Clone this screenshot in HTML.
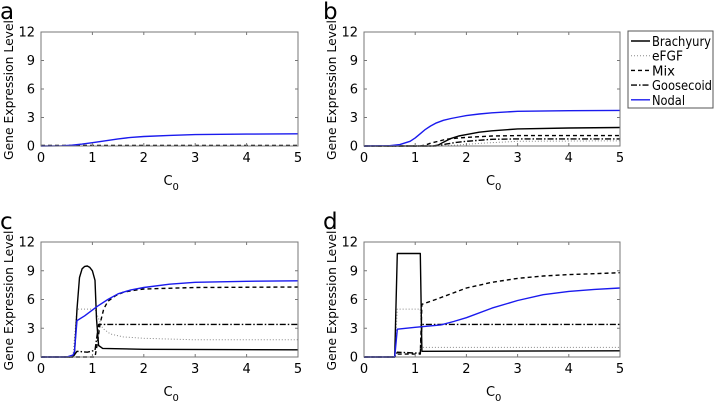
<!DOCTYPE html>
<html><head><meta charset="utf-8"><style>
body{margin:0;background:#fff;font-family:"Liberation Sans","DejaVu Sans",sans-serif}
svg text{font-family:"DejaVu Sans","Liberation Sans",sans-serif}
</style></head><body>
<svg id="c" width="714" height="402" viewBox="0 0 714 402"></svg>
<script>
const xTicks=[0,1,2,3,4,5];
const yTicks=[0,3,6,9,12];
const seriesNames=["Brachyury","eFGF","Mix","Goosecoid","Nodal"];
// panel a
const aNodalX=[0,0.4,0.6,0.8,1,1.25,1.5,1.75,2,2.5,3,4,5];
const aNodalY=[0,0.02,0.08,0.2,0.35,0.55,0.75,0.9,1.0,1.12,1.2,1.25,1.28];
const aFlatX=[0,5];
const aFlatY=[0.05,0.05];
// panel b
const bNodalX=[0,0.5,0.7,0.9,1,1.1,1.2,1.3,1.4,1.55,1.7,1.85,2,2.25,2.5,3,4,5];
const bNodalY=[0,0.03,0.15,0.5,0.85,1.3,1.75,2.1,2.4,2.7,2.9,3.05,3.2,3.37,3.5,3.65,3.72,3.75];
const bBraX=[0,1.35,1.45,1.55,1.7,1.85,2,2.25,2.5,3,4,5];
const bBraY=[0,0,0.1,0.4,0.8,1.05,1.2,1.45,1.6,1.8,1.9,1.95];
const bMixX=[0,1.1,1.2,1.3,1.45,1.6,1.8,2,2.5,3,5];
const bMixY=[0,0,0.1,0.3,0.5,0.7,0.82,0.9,1.05,1.1,1.1];
const bGscX=[0,1.4,1.6,1.8,2,2.5,3,5];
const bGscY=[0,0,0.2,0.38,0.5,0.7,0.75,0.75];
const bFgfX=[0,1.5,1.8,2.3,3,5];
const bFgfY=[0,0,0.1,0.3,0.5,0.55];
// panel c
const cBraX=[0,0.6,0.65,0.7,0.75,0.8,0.85,0.9,0.95,1.0,1.05,1.08,1.12,1.2,2,5];
const cBraY=[0,0,0.2,5,8.3,9.2,9.45,9.5,9.35,9.0,8,4,1.2,0.9,0.8,0.75];
const cNodalX=[0,0.5,0.62,0.65,0.7,0.85,1.1,1.3,1.5,1.75,2,2.5,3,4,5];
const cNodalY=[0,0,0.2,0.5,3.8,4.3,5.3,6,6.6,7.0,7.25,7.6,7.8,7.9,7.95];
const cMixX=[0,1.05,1.1,1.15,1.22,1.3,1.45,1.6,1.8,2,3,5];
const cMixY=[0,0,1.5,3.5,5,5.8,6.4,6.75,6.95,7.1,7.25,7.3];
const cGscX=[0,0.62,0.7,0.9,1.05,1.12,5];
const cGscY=[0,0,0.6,0.5,0.7,3.4,3.4];
const cFgfX=[0,0.62,0.7,1.05,1.12,1.2,1.35,1.6,2,3,5];
const cFgfY=[0,0,5,5,4,3,2.4,2.1,1.95,1.8,1.8];
// panel d
const dBraX=[0,0.6,0.65,1.1,1.13,5];
const dBraY=[0,0,10.8,10.8,0.6,0.65];
const dNodalX=[0,0.6,0.65,1,1.5,1.75,2,2.5,3,3.5,4,4.5,5];
const dNodalY=[0,0,2.9,3.1,3.35,3.7,4.1,5.1,5.9,6.5,6.85,7.05,7.2];
const dMixX=[0,0.6,0.65,1.1,1.13,1.4,1.7,2,2.5,3,3.5,4,5];
const dMixY=[0,0,0.3,0.3,5.5,6.0,6.6,7.2,7.8,8.2,8.45,8.6,8.8];
const dGscX=[0,0.6,0.65,1.1,1.13,5];
const dGscY=[0,0,0.5,0.4,3.4,3.4];
const dFgfX=[0,0.6,0.65,1.1,1.13,5];
const dFgfY=[0,0,5,5,1,1];

const NS="http://www.w3.org/2000/svg";
const svg=document.getElementById('c');
function el(t,a,p){const e=document.createElementNS(NS,t);for(const k in a)e.setAttribute(k,a[k]);(p||svg).appendChild(e);return e;}
const styles={Brachyury:{stroke:"#000",dash:""},eFGF:{stroke:"#888",dash:"1,2"},Mix:{stroke:"#000",dash:"4,3"},Goosecoid:{stroke:"#000",dash:"6,2,1.5,2"},Nodal:{stroke:"#1a1aee",dash:""}};
function panel(letter,x0,x1,y0,y1,series){
  const g=el('g',{});
  
  
  const sx=v=>x0+(x1-x0)*v/5, sy=v=>y1-(y1-y0)*v/12;
  const L=el('text',{x:x0-41,y:y0-13,'font-size':23},g);L.textContent=letter;
  
  
  for(const s of series){
    const st=styles[s.name];
    const pts=s.x.map((v,i)=>sx(v).toFixed(1)+","+sy(s.y[i]).toFixed(1)).join(" ");
    const p=el('polyline',{points:pts,fill:'none',stroke:st.stroke,'stroke-width':s.name=="eFGF"?1:1.4,'stroke-dasharray':st.dash,'stroke-linejoin':'round'},g);
    
    
  }
  el('rect',{x:x0,y:y0,width:x1-x0,height:y1-y0,fill:'none',stroke:'#777','stroke-width':1},g);
  for(const t of xTicks){
    const X=sx(t);
    el('line',{x1:X,x2:X,y1:y1,y2:y1-3,stroke:'#777'},g);
    el('line',{x1:X,x2:X,y1:y0,y2:y0+3,stroke:'#777'},g);
    const tx=el('text',{x:X,y:y1+16,'font-size':13,'text-anchor':'middle'},g);tx.textContent=t;
    
    
  }
  for(const t of yTicks){
    const Y=sy(t);
    el('line',{x1:x0,x2:x0+3,y1:Y,y2:Y,stroke:'#777'},g);
    el('line',{x1:x1,x2:x1-3,y1:Y,y2:Y,stroke:'#777'},g);
    const tx=el('text',{x:x0-6,y:Y+4.5,'font-size':13,'text-anchor':'end'},g);tx.textContent=t;
    
    
  }
  const xl=el('text',{x:(x0+x1)/2-6,y:y1+39,'font-size':13},g);xl.textContent="C";
  
  
  const sub=el('text',{x:(x0+x1)/2+3,y:y1+44,'font-size':10},g);sub.textContent="0";
  const yl=el('text',{x:0,y:0,'font-size':12,'text-anchor':'middle',textLength:140,lengthAdjust:'spacingAndGlyphs',transform:`translate(${x0-28},${(y0+y1)/2+1}) rotate(-90)`},g);yl.textContent="Gene Expression Level";
  
  
}
panel('a',41,298,32,146,[{name:"Mix",x:aFlatX,y:aFlatY},{name:"Nodal",x:aNodalX,y:aNodalY}]);
panel('b',364,620,32,146,[{name:"eFGF",x:bFgfX,y:bFgfY},{name:"Goosecoid",x:bGscX,y:bGscY},{name:"Mix",x:bMixX,y:bMixY},{name:"Brachyury",x:bBraX,y:bBraY},{name:"Nodal",x:bNodalX,y:bNodalY}]);
panel('c',41,298,242,357,[{name:"eFGF",x:cFgfX,y:cFgfY},{name:"Goosecoid",x:cGscX,y:cGscY},{name:"Mix",x:cMixX,y:cMixY},{name:"Brachyury",x:cBraX,y:cBraY},{name:"Nodal",x:cNodalX,y:cNodalY}]);
panel('d',364,620,242,357,[{name:"eFGF",x:dFgfX,y:dFgfY},{name:"Goosecoid",x:dGscX,y:dGscY},{name:"Mix",x:dMixX,y:dMixY},{name:"Brachyury",x:dBraX,y:dBraY},{name:"Nodal",x:dNodalX,y:dNodalY}]);
// legend
const lg=el('g',{});


el('rect',{x:628,y:31,width:85,height:77,fill:'#fff',stroke:'#555'},lg);
const legendWidths={Brachyury:59,eFGF:31,Mix:23,Goosecoid:60,Nodal:33};
seriesNames.forEach((n,i)=>{
  const Y=41+i*14.7, st=styles[n];
  el('line',{x1:631,x2:650,y1:Y,y2:Y,stroke:st.stroke,'stroke-width':n=="eFGF"?1:1.4,'stroke-dasharray':st.dash},lg);
  const t=el('text',{x:652,y:Y+5,'font-size':13,textLength:legendWidths[n],lengthAdjust:'spacingAndGlyphs'},lg);t.textContent=n;
  
  
});
</script>
</body></html>
